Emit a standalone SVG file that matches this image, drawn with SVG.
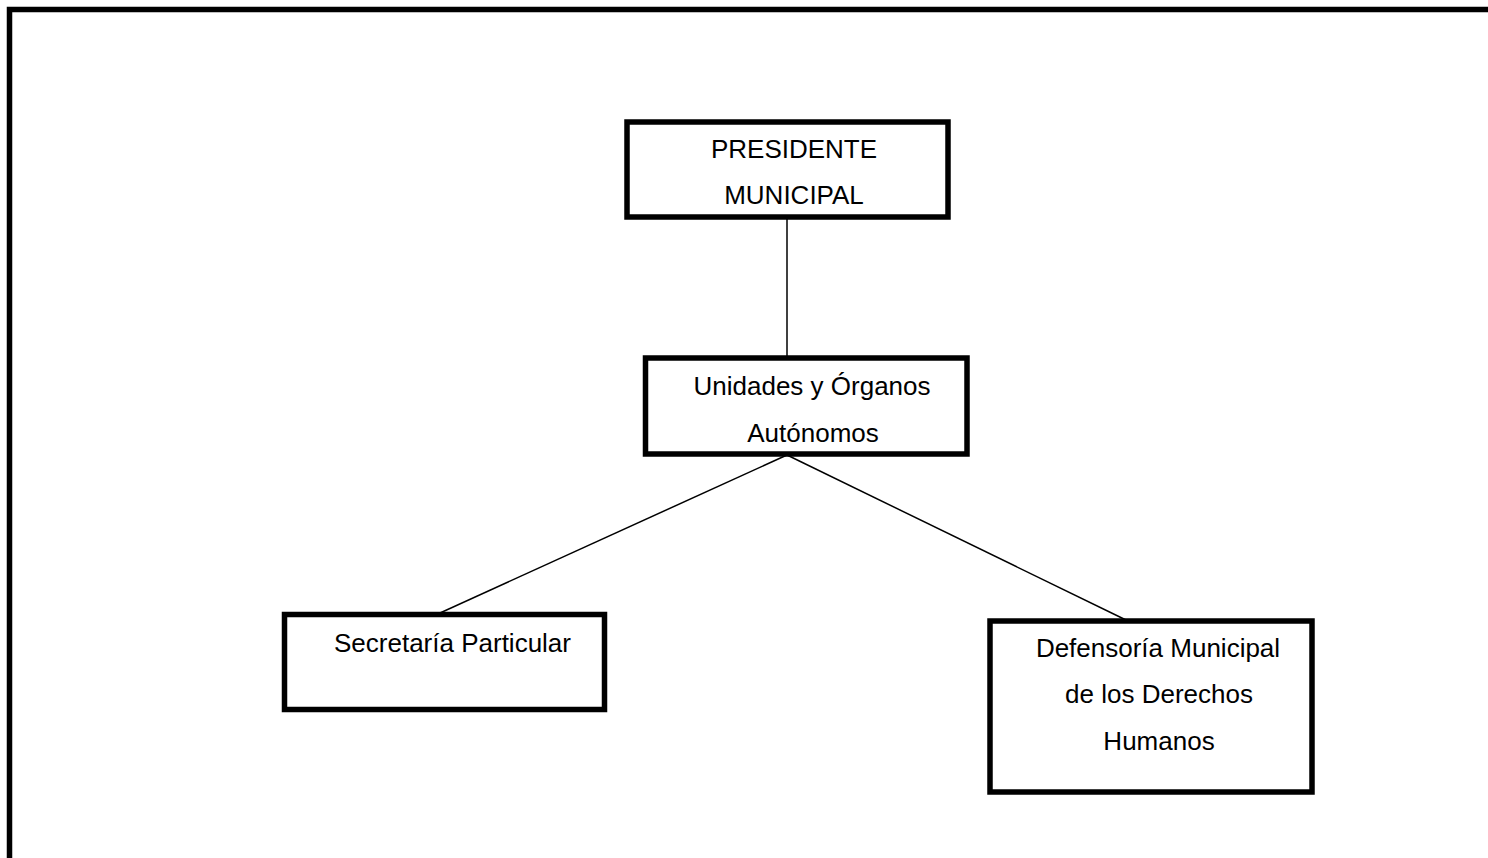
<svg xmlns="http://www.w3.org/2000/svg" width="1488" height="858" viewBox="0 0 1488 858">
<style>
.box{fill:#fff;stroke:#000;stroke-width:5.5}
.lbl{font-family:"Liberation Sans",Arial,sans-serif;font-size:26px;fill:#000;text-anchor:middle}
.con{stroke:#000;stroke-width:1.5;fill:none}
</style>
<rect x="0" y="0" width="1488" height="858" fill="#fff"/>
<rect x="9.5" y="9.5" width="1500" height="900" fill="none" stroke="#000" stroke-width="5.5"/>
<g id="connectors">
<line class="con" x1="787" y1="217" x2="787" y2="358"/>
<line class="con" x1="787" y1="455" x2="440" y2="613"/>
<line class="con" x1="787" y1="455" x2="1126" y2="620"/>
</g>
<g id="presidente">
<rect class="box" x="627" y="122" width="321" height="95"/>
<text class="lbl" x="794" y="158">PRESIDENTE</text>
<text class="lbl" x="794" y="204">MUNICIPAL</text>
</g>
<g id="unidades">
<rect class="box" x="645.5" y="358" width="321.5" height="96"/>
<text class="lbl" x="812" y="395">Unidades y Órganos</text>
<text class="lbl" x="813" y="442">Autónomos</text>
</g>
<g id="secretaria">
<rect class="box" x="284.5" y="614.5" width="320" height="95"/>
<text class="lbl" x="452.5" y="652">Secretaría Particular</text>
</g>
<g id="defensoria">
<rect class="box" x="990" y="621" width="322" height="171"/>
<text class="lbl" x="1158" y="657">Defensoría Municipal</text>
<text class="lbl" x="1159" y="703">de los Derechos</text>
<text class="lbl" x="1159" y="750">Humanos</text>
</g>
</svg>
